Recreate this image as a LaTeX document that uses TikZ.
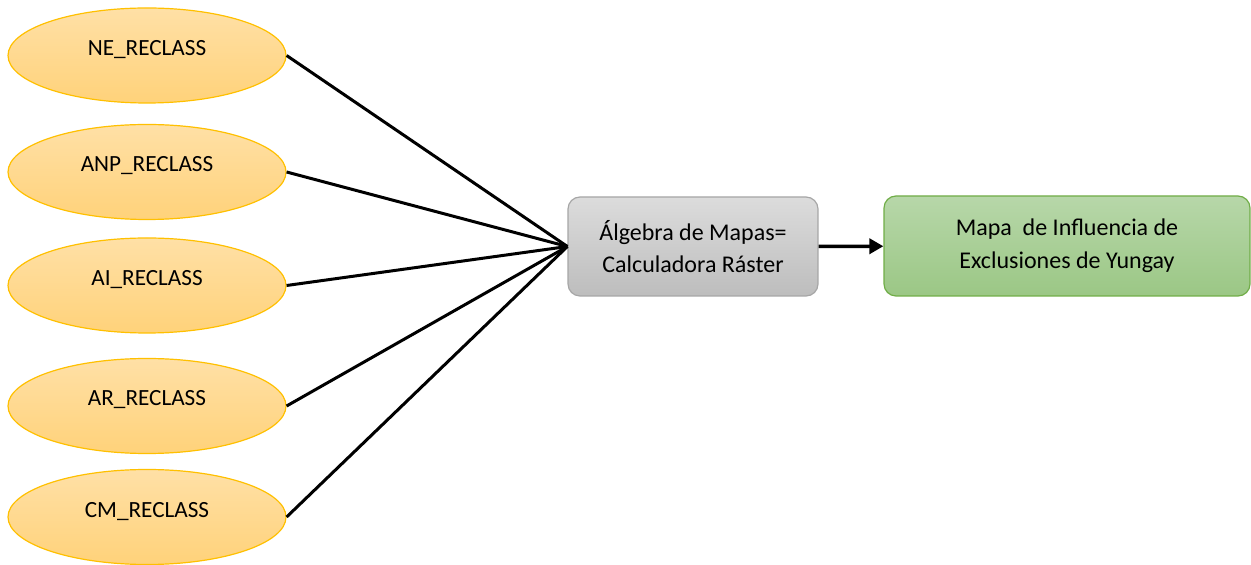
\documentclass[tikz,border=0pt]{standalone}
\usepackage{fontspec}
\setmainfont{Carlito}
\usetikzlibrary{shapes.geometric,arrows.meta}

\definecolor{elltop}{HTML}{FFE0A6}
\definecolor{ellbot}{HTML}{FFD27A}
\definecolor{elldraw}{HTML}{FFC000}
\definecolor{graytop}{HTML}{DCDCDC}
\definecolor{graybot}{HTML}{BDBDBD}
\definecolor{graydraw}{HTML}{A6A6A6}
\definecolor{greentop}{HTML}{B7D7A9}
\definecolor{greenbot}{HTML}{9BC785}
\definecolor{greendraw}{HTML}{70AD47}

\tikzset{
  capa/.style={ellipse, draw=elldraw, line width=0.6pt,
    top color=elltop, bottom color=ellbot,
    minimum width=139pt, minimum height=47.5pt, inner sep=0pt,
    text height=5pt, text depth=5pt, font=\fontsize{11.6}{13}\selectfont},
  proceso/.style={rectangle, rounded corners=6pt, draw=graydraw, line width=0.6pt,
    top color=graytop, bottom color=graybot,
    minimum width=125pt, minimum height=49.5pt, align=center,
    font=\fontsize{12}{16}\selectfont},
  salida/.style={rectangle, rounded corners=6pt, draw=greendraw, line width=0.6pt,
    top color=greentop, bottom color=greenbot,
    minimum width=183pt, minimum height=50pt, align=center,
    font=\fontsize{12}{16.5}\selectfont},
  enlace/.style={line width=1.5pt, black}
}

\begin{document}
\begin{tikzpicture}[x=0.5pt, y=-0.5pt]
    \useasboundingbox (0,0) rectangle (1251,565);

    \node[capa] (NE) at (147,55.5) {NE\_RECLASS};
    \node[capa] (ANP) at (147,172) {ANP\_RECLASS};
    \node[capa] (AI) at (147,285.5) {AI\_RECLASS};
    \node[capa] (AR) at (147,406) {AR\_RECLASS};
    \node[capa] (CM) at (147,517) {CM\_RECLASS};

    \node[proceso] (algebra) at (693,246.5) {Álgebra de Mapas=\\Calculadora Ráster};
    \node[salida] (mapa) at (1067,246) {Mapa\ \ de Influencia de\\Exclusiones de Yungay};

    \draw[enlace] (NE.east) -- (algebra.west);
    \draw[enlace] (ANP.east) -- (algebra.west);
    \draw[enlace] (AI.east) -- (algebra.west);
    \draw[enlace] (AR.east) -- (algebra.west);
    \draw[enlace] (CM.east) -- (algebra.west);
    \draw[enlace, line width=1.75pt, -{Triangle[length=7pt, width=7.5pt]}] (algebra) -- (mapa);
\end{tikzpicture}
\end{document}
